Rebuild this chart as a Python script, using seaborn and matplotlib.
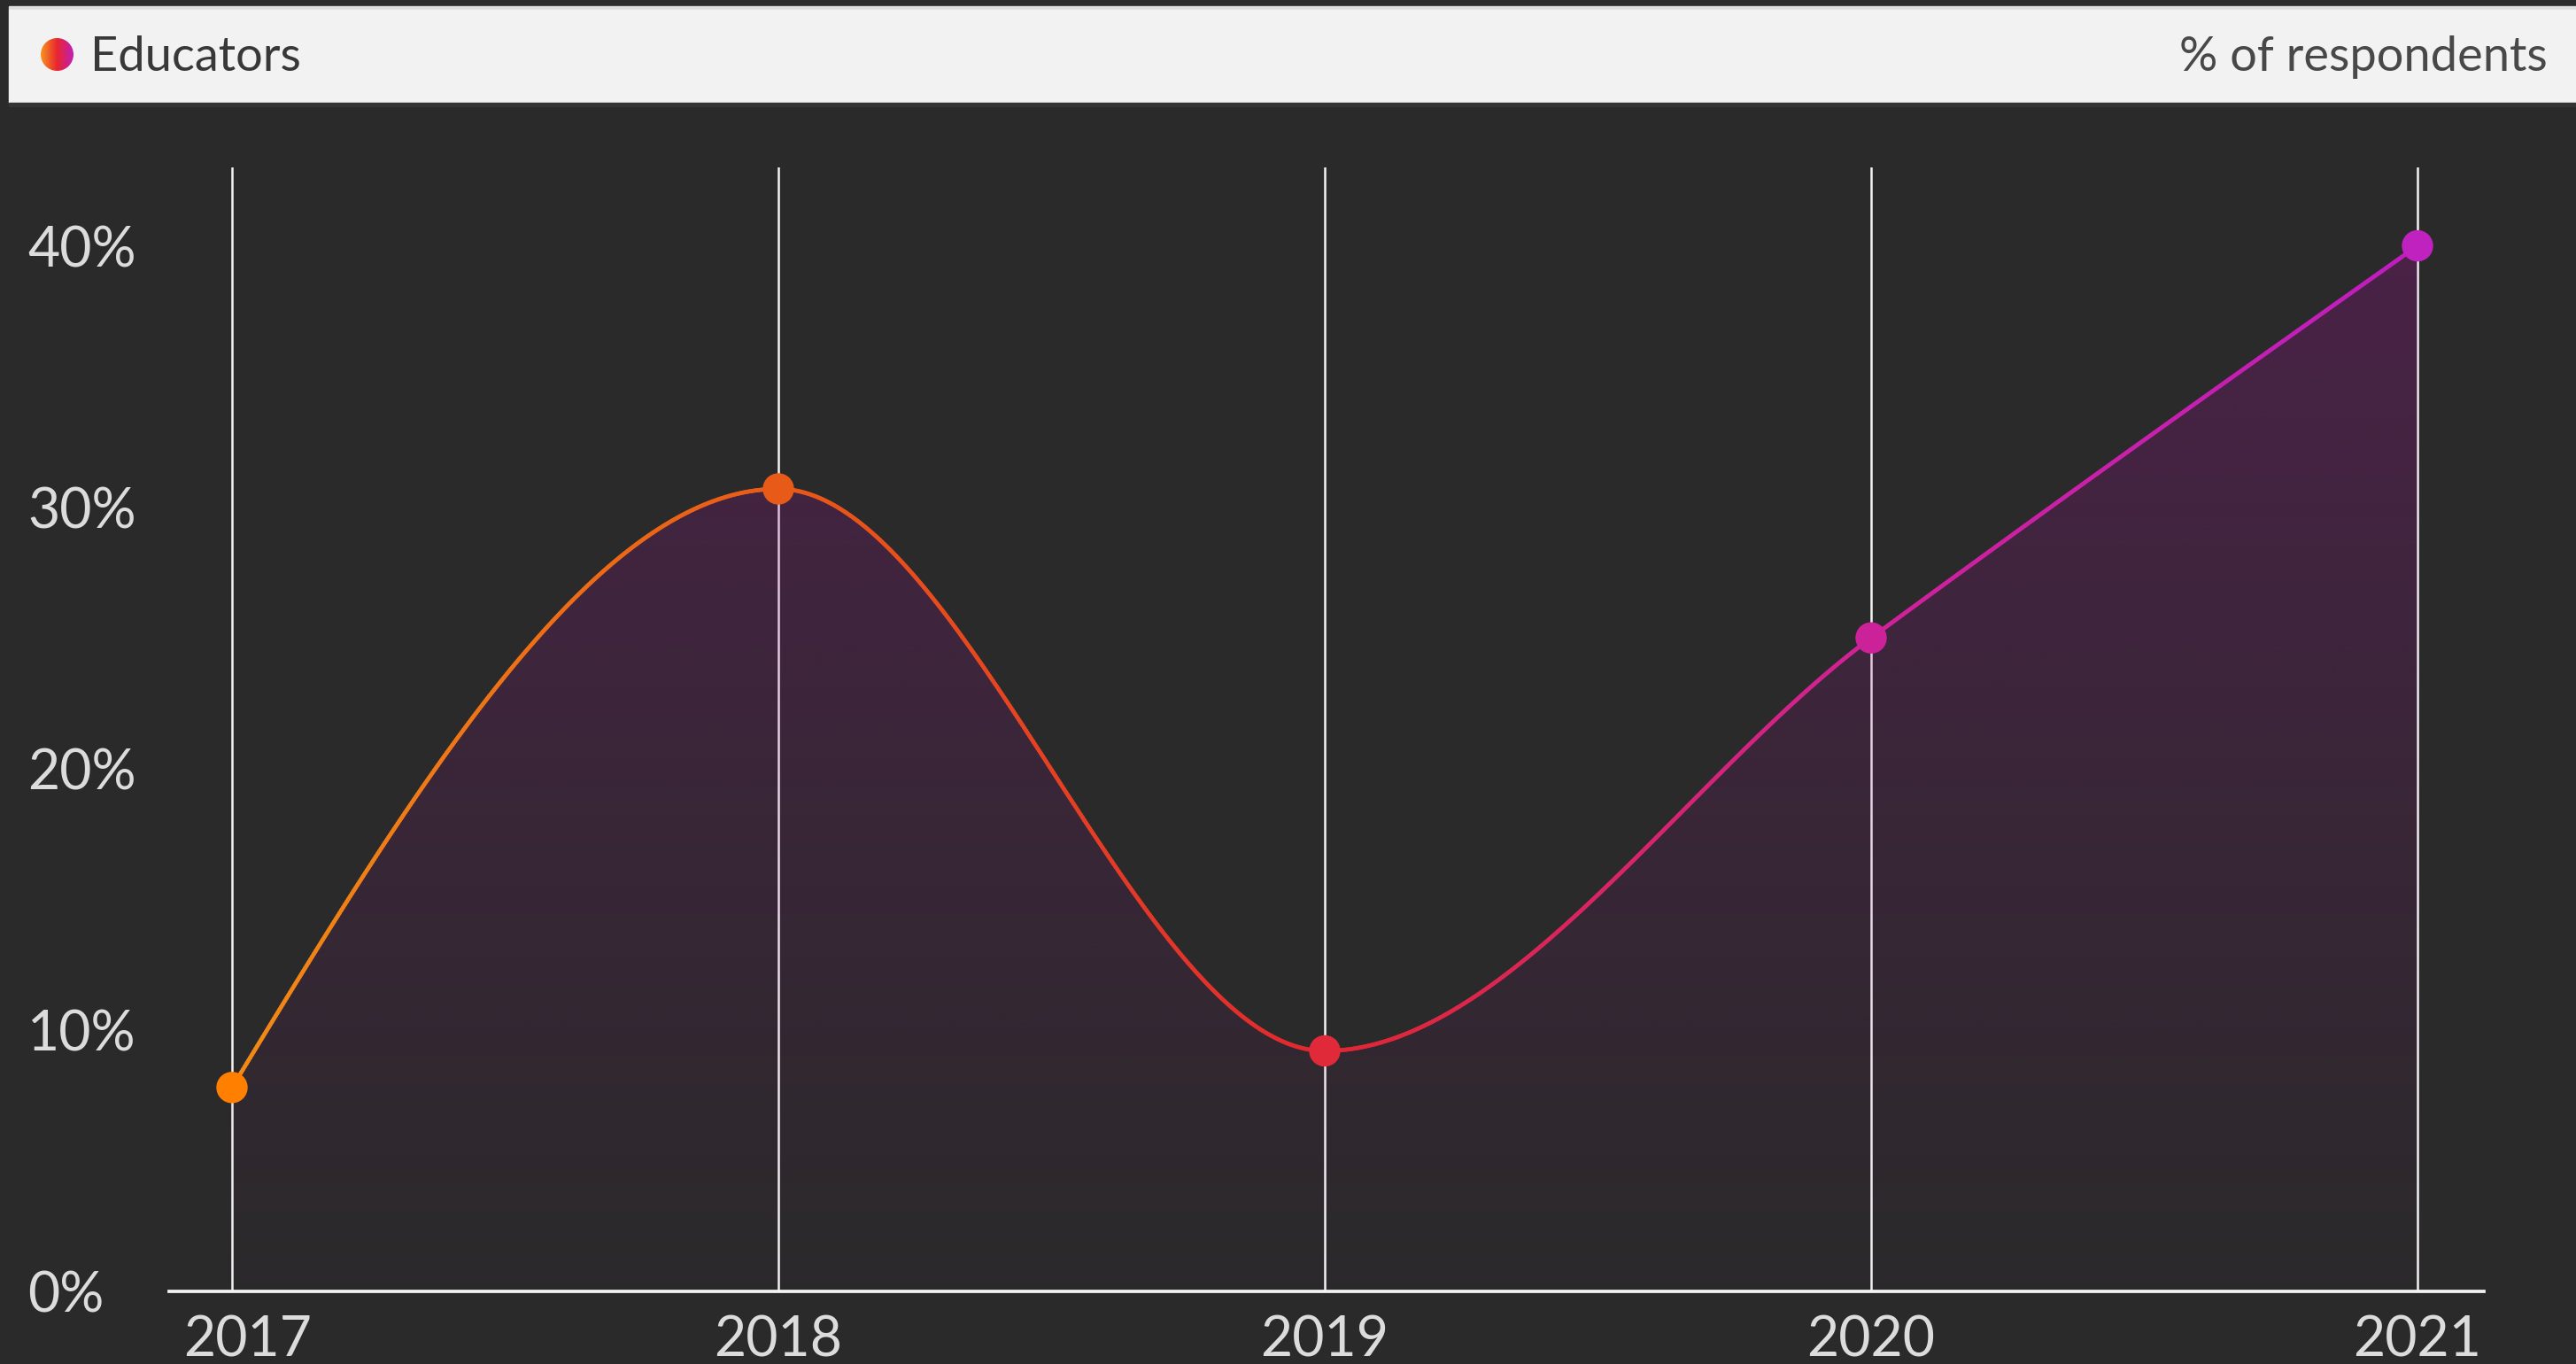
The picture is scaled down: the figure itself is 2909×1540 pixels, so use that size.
import numpy as np
import pandas as pd
import matplotlib
matplotlib.use("Agg")
import matplotlib.pyplot as plt
import seaborn as sns
from matplotlib.collections import LineCollection
from matplotlib.colors import LinearSegmentedColormap, to_rgb
from matplotlib.patches import Rectangle, Circle, PathPatch
from matplotlib.path import Path
from matplotlib.transforms import ScaledTranslation

# ---------------- data ----------------
years = [2017, 2018, 2019, 2020, 2021]
educators_pct = [7.8, 30.7, 9.2, 25.0, 40.0]
y_ticks = [0, 10, 20, 30, 40]
y_tick_labels = ["0%", "10%", "20%", "30%", "40%"]
x_tick_labels = ["2017", "2018", "2019", "2020", "2021"]
series_name = "Educators"
unit_label = "% of respondents"
point_colors = ["#FF7F00", "#E85A18", "#E02A3A", "#CC2299", "#BF22BF"]
line_stops = ["#F28A16", "#E85A18", "#E0282F", "#CF2298", "#BE1EBE"]

# ---------------- style ----------------
W, H, DPI = 2909, 1540, 100
BG = "#2A2A2A"
TXT = "#DCDCDC"

sns.set_theme(style="dark")
plt.rcParams["font.family"] = ["Lato", "DejaVu Sans"]

fig = plt.figure(figsize=(W / DPI, H / DPI), dpi=DPI, facecolor=BG)
ax = fig.add_axes([191 / W, 1 - 1458 / H, (2805 - 191) / W, (1458 - 189) / H])
ax.set_facecolor(BG)


def monotone_tangents(x, y):
    x = np.asarray(x, float)
    y = np.asarray(y, float)
    n = len(x)
    h = np.diff(x)
    s = np.diff(y) / h
    t = np.zeros(n)
    for i in range(1, n - 1):
        p = (s[i - 1] * h[i] + s[i] * h[i - 1]) / (h[i - 1] + h[i])
        t[i] = (np.sign(s[i - 1]) + np.sign(s[i])) * min(abs(s[i - 1]), abs(s[i]), 0.5 * abs(p))
    t[0] = (3 * s[0] - t[1]) / 2
    t[-1] = (3 * s[-1] - t[-2]) / 2
    return t


def smooth_path(x, y, per_seg=300):
    x = np.asarray(x, float)
    y = np.asarray(y, float)
    t = monotone_tangents(x, y)
    xs, ys = [], []
    for i in range(len(x) - 1):
        h = x[i + 1] - x[i]
        u = np.linspace(0, 1, per_seg, endpoint=(i == len(x) - 2))
        h00 = 2 * u**3 - 3 * u**2 + 1
        h10 = u**3 - 2 * u**2 + u
        h01 = -2 * u**3 + 3 * u**2
        h11 = u**3 - u**2
        xs.append(x[i] + u * h)
        ys.append(h00 * y[i] + h10 * h * t[i] + h01 * y[i + 1] + h11 * h * t[i + 1])
    return np.concatenate(xs), np.concatenate(ys)


df = pd.DataFrame({"year": years, "pct": educators_pct, "label": x_tick_labels})

cx, cy = smooth_path(df["year"], df["pct"])

# gradient area under the curve
ymax = 43.0
poly = np.vstack([np.column_stack([cx, cy]),
                  [[years[-1], 0], [years[0], 0], [cx[0], cy[0]]]])
clip = PathPatch(Path(poly), facecolor="none", edgecolor="none")
ax.add_patch(clip)
nrows = 400
vals = np.linspace(0, ymax, nrows)
fill_rgb = np.array(to_rgb("#960F8C"))
grad = np.zeros((nrows, 2, 4))
grad[:, :, :3] = fill_rgb
grad[:, :, 3] = np.clip(0.0072 * vals + 0.01, 0, 1)[:, None]
im = ax.imshow(grad, extent=[years[0], years[-1], 0, ymax], origin="lower",
               aspect="auto", zorder=2, interpolation="bilinear")
im.set_clip_path(clip)

# gradient line
cmap = LinearSegmentedColormap.from_list("edu", line_stops)
pts = np.column_stack([cx, cy]).reshape(-1, 1, 2)
segs = np.concatenate([pts[:-1], pts[1:]], axis=1)
lc = LineCollection(segs, cmap=cmap, linewidths=3.4, capstyle="round", zorder=3)
lc.set_array((cx[:-1] - years[0]) / (years[-1] - years[0]))
lc.set_clim(0, 1)
ax.add_collection(lc)

# points
sns.scatterplot(data=df, x="year", y="pct", hue="label",
                palette=dict(zip(x_tick_labels, point_colors)),
                s=650, linewidth=0, legend=False, ax=ax, zorder=4)

# axes
ax.set_xlim(2017 - 71 / 617, 2021 + 75 / 617)
ax.set_ylim(0, ymax)
ax.set_xticks(years)
ax.set_xticklabels(x_tick_labels)
ax.set_yticks(y_ticks)
ax.set_yticklabels(y_tick_labels)
ax.set_xlabel("")
ax.set_ylabel("")
ax.set_axisbelow(True)
ax.xaxis.grid(True, color="#F4F4F4", linewidth=1.8)
ax.yaxis.grid(False)
for side in ["top", "left", "right"]:
    ax.spines[side].set_visible(False)
ax.spines["bottom"].set_visible(True)
ax.spines["bottom"].set_color("#F2F2F2")
ax.spines["bottom"].set_linewidth(2.7)
ax.tick_params(axis="x", length=0, pad=19, labelsize=45, labelcolor=TXT)
ax.tick_params(axis="y", length=0, pad=115, labelsize=45, labelcolor=TXT)
plt.setp(ax.get_yticklabels(), ha="left")
first = ax.get_xticklabels()[0]
first.set_transform(first.get_transform() + ScaledTranslation(18 / DPI, 0, fig.dpi_scale_trans))


# header band
def fx(px):
    return px / W


def fy(py):
    return 1 - py / H


fig.patches.append(Rectangle((fx(10), fy(11)), 1 - fx(10), fy(7) - fy(11),
                             transform=fig.transFigure, color="#DCDCDC", zorder=0))
fig.patches.append(Rectangle((fx(10), fy(116)), 1 - fx(10), fy(11) - fy(116),
                             transform=fig.transFigure, color="#F2F2F2", zorder=0))
fig.patches.append(Rectangle((fx(10), fy(120)), 1 - fx(10), fy(116) - fy(120),
                             transform=fig.transFigure, color="#343434", zorder=0))

# legend dot with gradient
lax = fig.add_axes([fx(46), fy(80), 37 / W, 37 / H], zorder=5)
lax.set_axis_off()
lax.patch.set_alpha(0)
lgrad = np.linspace(0, 1, 64)[None, :]
lim = lax.imshow(lgrad, cmap=LinearSegmentedColormap.from_list("dot", ["#F7931E", "#E8262E", "#C21FB4"]),
                 extent=[0, 1, 0, 1], aspect="auto")
circ = Circle((0.5, 0.5), 0.5, transform=lax.transAxes, facecolor="none", edgecolor="none")
lax.add_patch(circ)
lim.set_clip_path(circ)

fig.text(fx(102), fy(80), series_name, ha="left", va="baseline",
         fontsize=39, color="#383838", zorder=6)
fig.text(fx(2877), fy(80), unit_label, ha="right", va="baseline",
         fontsize=39, color="#484848", zorder=6)

fig.savefig("out.png", dpi=DPI, facecolor=BG)
